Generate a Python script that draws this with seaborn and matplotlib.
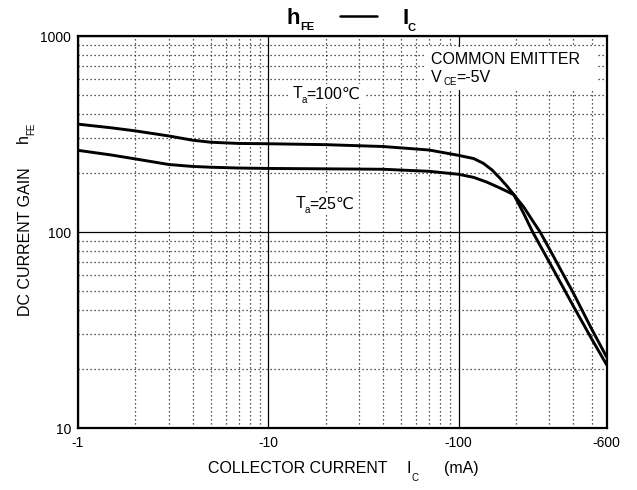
import matplotlib
matplotlib.use("Agg")
import matplotlib.pyplot as plt
from matplotlib.lines import Line2D
from matplotlib.patches import Rectangle
from matplotlib.ticker import FixedLocator, NullFormatter
import pandas as pd
import seaborn as sns

# Collector current magnitude (mA) and DC current gain, Ta = 100 C
ic_100c = [1, 1.5, 2, 3, 4, 5, 7, 10, 20, 40, 70, 100, 120, 135, 150, 165, 180,
           195, 220, 245, 300, 400, 500, 600]
hfe_100c = [355, 340, 328, 309, 294, 287, 283, 282, 279, 273, 262, 246, 237, 224,
            207, 188, 171, 155, 124, 100, 70, 42, 28.5, 21]

# Collector current magnitude (mA) and DC current gain, Ta = 25 C
ic_25c = [1, 1.5, 2, 3, 4, 5, 7, 10, 20, 40, 70, 100, 120, 140, 160, 180, 195,
          220, 245, 268, 300, 400, 500, 600]
hfe_25c = [261, 247, 236, 221, 216, 214, 212, 211, 210, 209, 204, 197, 190, 180,
           170, 161, 155, 134, 114, 100, 82, 49, 32, 23]

x_ticks = [1, 10, 100, 600]
x_tick_labels = ["-1", "-10", "-100", "-600"]
y_ticks = [10, 100, 1000]
y_tick_labels = ["10", "100", "1000"]

sns.set_style("white")
plt.rcParams["font.family"] = ["Liberation Sans", "DejaVu Sans"]

W, H = 637, 490
fig = plt.figure(figsize=(W / 100, H / 100), dpi=100)


def fx(x):
    return x / W


def fy(y):
    return 1 - y / H


left, right, top, bottom = 78, 606.7, 36, 428
ax = fig.add_axes([fx(left), fy(bottom), (right - left) / W, (bottom - top) / H])

df = pd.concat([
    pd.DataFrame({"ic": ic_100c, "hfe": hfe_100c, "ta": "100"}),
    pd.DataFrame({"ic": ic_25c, "hfe": hfe_25c, "ta": "25"}),
])
sns.lineplot(data=df, x="ic", y="hfe", units="ta", estimator=None, sort=False,
             color="black", lw=2.1, ax=ax, legend=False, zorder=3)

ax.set_xscale("log")
ax.set_yscale("log")
ax.set_xlim(1, 600)
ax.set_ylim(10, 1000)

ax.xaxis.set_major_locator(FixedLocator(x_ticks))
ax.set_xticklabels(x_tick_labels)
ax.yaxis.set_major_locator(FixedLocator(y_ticks))
ax.set_yticklabels(y_tick_labels)

x_minor = [m * d for d in (1, 10) for m in range(2, 10)] + [200, 300, 400, 500]
y_minor = [m * d for d in (10, 100) for m in range(2, 10)]
ax.xaxis.set_minor_locator(FixedLocator(x_minor))
ax.yaxis.set_minor_locator(FixedLocator(y_minor))
ax.xaxis.set_minor_formatter(NullFormatter())
ax.yaxis.set_minor_formatter(NullFormatter())

ax.set_axisbelow(True)
ax.grid(which="major", color="black", lw=0.9, ls="-")
ax.grid(which="minor", color="#222222", lw=0.9, ls=(0, (1, 2.2)))
ax.tick_params(which="both", length=0, labelsize=10, colors="black")
ax.tick_params(axis="x", pad=6)
ax.tick_params(axis="y", pad=5)
ax.set_xlabel("")
ax.set_ylabel("")
for s in ax.spines.values():
    s.set_color("black")
    s.set_linewidth(1.6)

# white panels behind the in-plot annotations
for (x0, y0, x1, y1) in [(424, 47, 597, 90), (290, 84, 364, 104), (293, 194, 358, 214)]:
    ax.add_patch(Rectangle((fx(x0), fy(y1)), fx(x1) - fx(x0), fy(y0) - fy(y1),
                           transform=fig.transFigure, facecolor="white",
                           edgecolor="none", zorder=1))


def txt(x, y, s, size, **kw):
    kw.setdefault("ha", "left")
    kw.setdefault("va", "center")
    fig.text(fx(x), fy(y), s, fontsize=size, color="black", **kw)


# title: hFE —— IC
txt(286, 18, "h", 16, weight="bold")
txt(300, 27, "FE", 8, weight="bold")
fig.add_artist(Line2D([fx(340), fx(377)], [fy(16), fy(16)], color="black", lw=1.8))
txt(402, 18, "I", 16, weight="bold")
txt(408, 28, "C", 8, weight="bold")

# annotations
txt(431, 60, "COMMON EMITTER", 11.5)
txt(431, 77, "V", 11.5)
txt(443, 82, "CE", 7)
txt(456, 77, "=-5V", 11.5)

txt(293, 94, "T", 11.5)
txt(301.5, 100, "a", 7)
txt(306, 94, "=100\u2103", 11.5)

txt(296, 204, "T", 11.5)
txt(304.5, 210, "a", 7)
txt(309, 204, "=25\u2103", 11.5)

# axis labels
txt(26, 242, "DC CURRENT GAIN", 11.5, rotation=90, ha="center")
txt(23, 139, "h", 11.5, rotation=90, ha="center")
txt(31, 129, "FE", 7, rotation=90, ha="center")

txt(208, 468, "COLLECTOR CURRENT", 11.5)
txt(407, 468, "I", 11.5)
txt(412, 478, "C", 7)
txt(444, 468, "(mA)", 11.5)

fig.savefig("out.png", dpi=100)
